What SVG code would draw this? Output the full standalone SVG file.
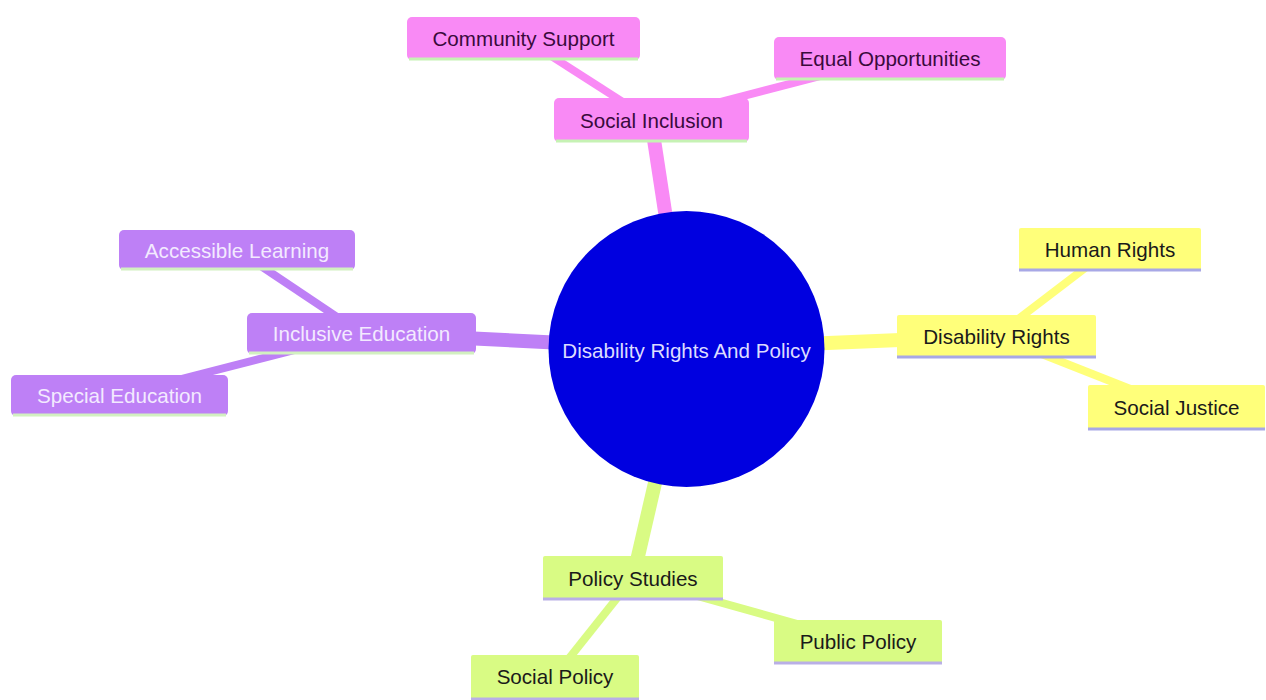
<svg xmlns="http://www.w3.org/2000/svg" width="1266" height="700" viewBox="0 0 1266 700">
<style>
text{font-family:"Liberation Sans",Arial,sans-serif;font-size:20.6px;text-anchor:middle;dominant-baseline:central}
.e0{stroke-width:14;stroke-linecap:butt;fill:none}
.e1{stroke-width:8;stroke-linecap:butt;fill:none}
.s1 rect{fill:#f98af5}.s1 text{fill:#3a0a3c}.s1 line.bl{stroke:#c6f2b4}
.s2 rect{fill:#be80f6}.s2 text{fill:#f3eaff}.s2 line.bl{stroke:#d2f0c0}
.s3 rect{fill:#ffff7a}.s3 text{fill:#1a1a1a}.s3 line.bl{stroke:#a8a8e6}
.s4 rect{fill:#d9fb84}.s4 text{fill:#1a1a1a}.s4 line.bl{stroke:#b9afe6}
line.bl{stroke-width:3}
.c1{stroke:#f98af5}.c2{stroke:#be80f6}.c3{stroke:#ffff7a}.c4{stroke:#d9fb84}
</style>
<rect width="1266" height="700" fill="#ffffff"/>
<g id="connectors">
<line class="e0 c1" x1="686" y1="349" x2="651" y2="120"/>
<line class="e0 c2" x1="686" y1="349" x2="361" y2="333"/>
<line class="e0 c3" x1="686" y1="349" x2="996" y2="336"/>
<line class="e0 c4" x1="686" y1="349" x2="633" y2="578"/>
<line class="e1 c1" x1="651" y1="120" x2="523" y2="38"/>
<line class="e1 c1" x1="651" y1="120" x2="890" y2="58"/>
<line class="e1 c2" x1="361" y1="333" x2="237" y2="250"/>
<line class="e1 c2" x1="361" y1="333" x2="119" y2="395"/>
<line class="e1 c3" x1="996" y1="336" x2="1110" y2="249"/>
<line class="e1 c3" x1="996" y1="336" x2="1176" y2="407"/>
<line class="e1 c4" x1="633" y1="578" x2="858" y2="641"/>
<line class="e1 c4" x1="633" y1="578" x2="555" y2="676"/>
</g>
<g id="root">
<circle cx="686.5" cy="349" r="138" fill="#0000e0"/>
<text x="686.5" y="350" style="fill:#dcdcff">Disability Rights And Policy</text>
</g>
<g id="social-inclusion" class="s1">
<rect x="554" y="98" width="195" height="44" rx="5"/><line class="bl" x1="556" y1="141" x2="747" y2="141"/>
<text x="651.5" y="120">Social Inclusion</text>
</g>
<g id="community-support" class="s1">
<rect x="407" y="17" width="233" height="43" rx="5"/><line class="bl" x1="409" y1="59" x2="638" y2="59"/>
<text x="523.5" y="38.5">Community Support</text>
</g>
<g id="equal-opportunities" class="s1">
<rect x="774" y="37" width="232" height="43" rx="5"/><line class="bl" x1="776" y1="79" x2="1004" y2="79"/>
<text x="890" y="58.5">Equal Opportunities</text>
</g>
<g id="inclusive-education" class="s2">
<rect x="247" y="313" width="229" height="41" rx="5"/><line class="bl" x1="249" y1="353" x2="474" y2="353"/>
<text x="361.5" y="333.5">Inclusive Education</text>
</g>
<g id="accessible-learning" class="s2">
<rect x="119" y="230" width="236" height="40" rx="5"/><line class="bl" x1="121" y1="269" x2="353" y2="269"/>
<text x="237" y="250">Accessible Learning</text>
</g>
<g id="special-education" class="s2">
<rect x="11" y="375" width="217" height="41" rx="5"/><line class="bl" x1="13" y1="415" x2="226" y2="415"/>
<text x="119.5" y="395.5">Special Education</text>
</g>
<g id="disability-rights" class="s3">
<rect x="897" y="315" width="199" height="43" rx="2"/><line class="bl" x1="897" y1="357" x2="1096" y2="357"/>
<text x="996.5" y="336.5">Disability Rights</text>
</g>
<g id="human-rights" class="s3">
<rect x="1019" y="228" width="182" height="43" rx="2"/><line class="bl" x1="1019" y1="270" x2="1201" y2="270"/>
<text x="1110" y="249.5">Human Rights</text>
</g>
<g id="social-justice" class="s3">
<rect x="1088" y="385" width="177" height="45" rx="2"/><line class="bl" x1="1088" y1="429" x2="1265" y2="429"/>
<text x="1176.5" y="407">Social Justice</text>
</g>
<g id="policy-studies" class="s4">
<rect x="543" y="556" width="180" height="44" rx="2"/><line class="bl" x1="543" y1="599" x2="723" y2="599"/>
<text x="633" y="578">Policy Studies</text>
</g>
<g id="public-policy" class="s4">
<rect x="774" y="620" width="168" height="44" rx="2"/><line class="bl" x1="774" y1="663" x2="942" y2="663"/>
<text x="858" y="641">Public Policy</text>
</g>
<g id="social-policy" class="s4">
<rect x="471" y="655" width="168" height="45" rx="2"/><line class="bl" x1="471" y1="699" x2="639" y2="699"/>
<text x="555" y="676">Social Policy</text>
</g>
</svg>
